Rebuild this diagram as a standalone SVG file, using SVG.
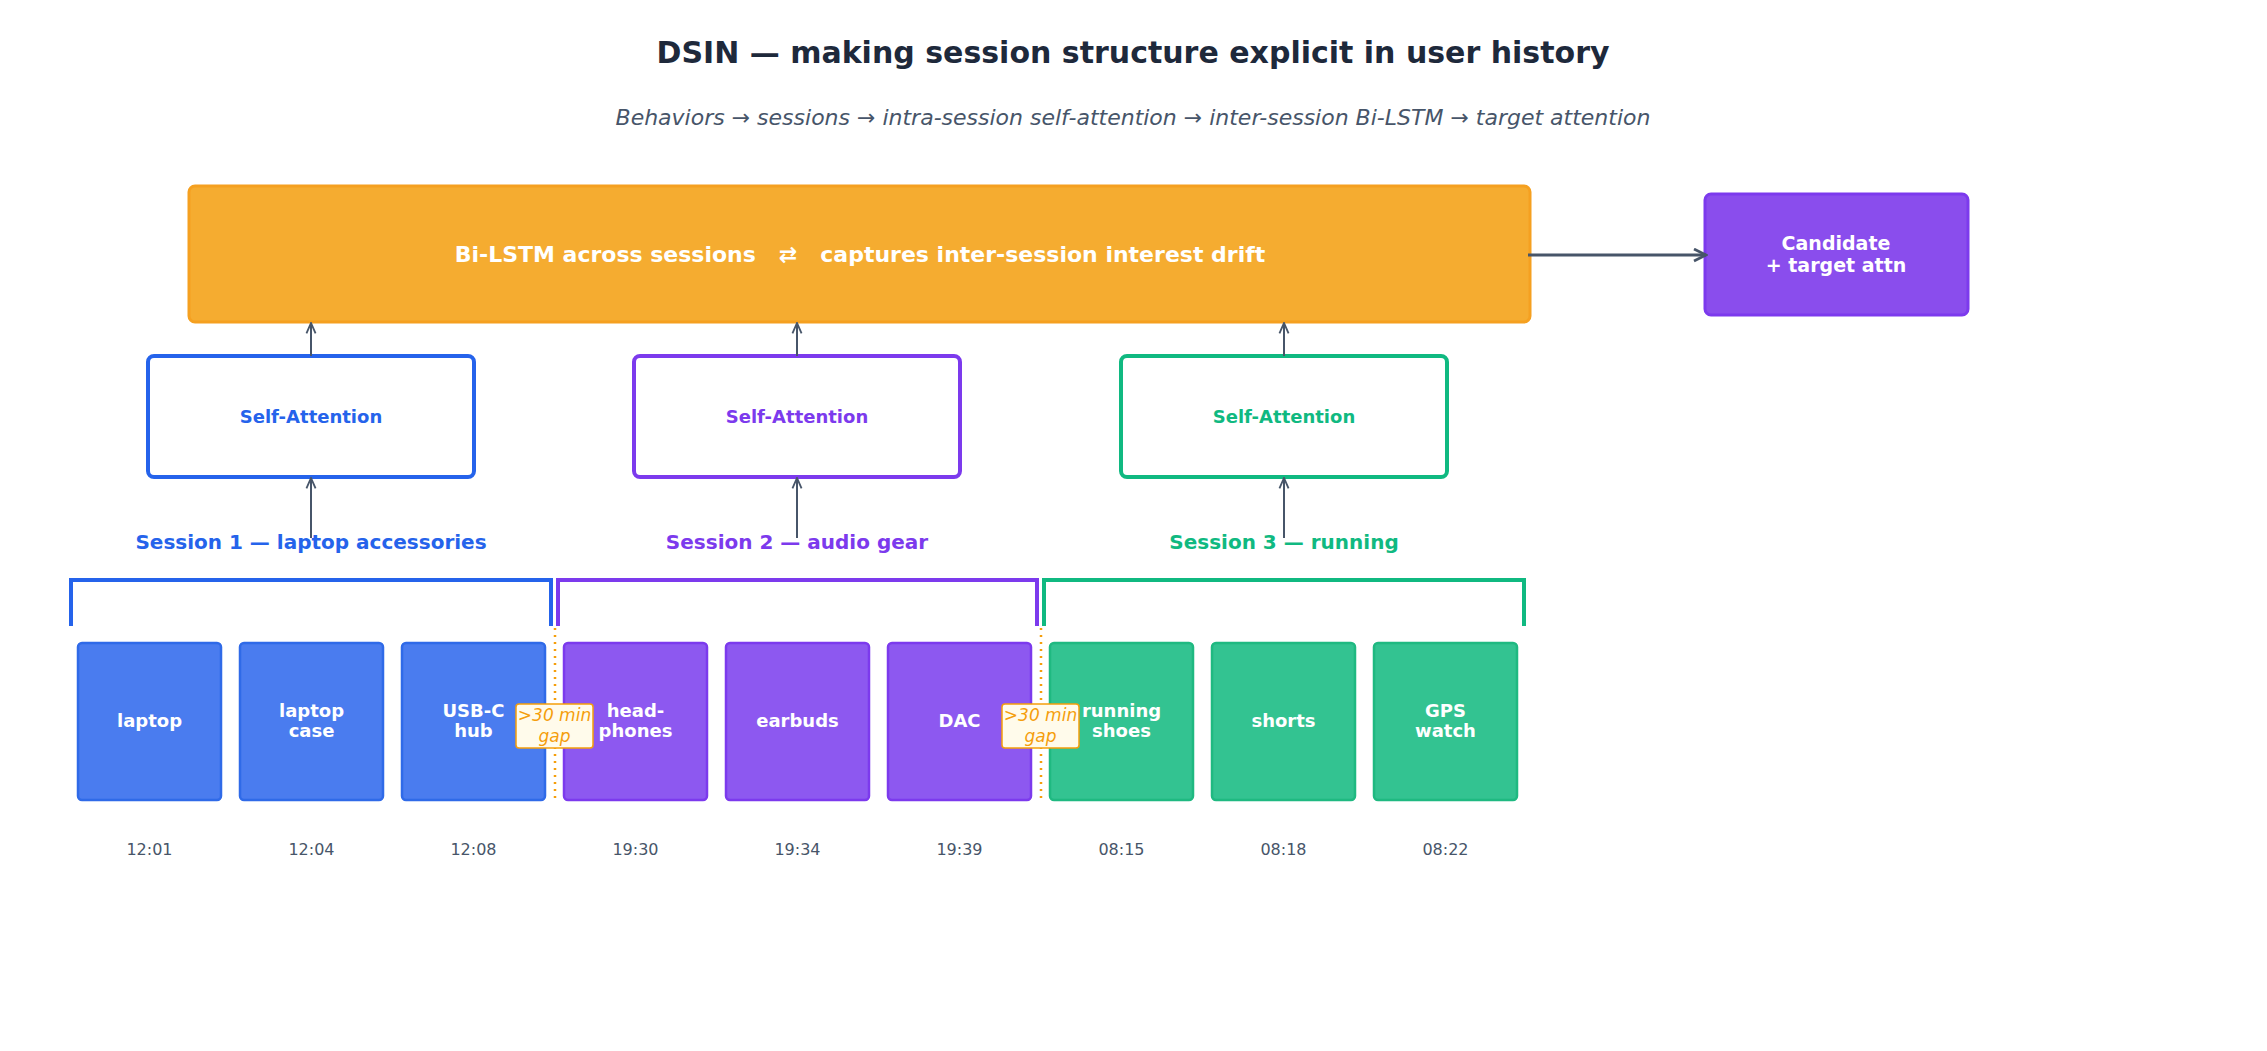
<svg xmlns="http://www.w3.org/2000/svg" width="2267" height="1051" viewBox="0 0 2267 1051">
<defs>
<marker id="ah" viewBox="0 0 10 10" refX="9" refY="5" markerWidth="13" markerHeight="13" orient="auto" markerUnits="userSpaceOnUse"><path d="M1,1.5 L9,5 L1,8.5" fill="none" stroke="#475569" stroke-width="1.4"/></marker>
<marker id="ah2" viewBox="0 0 10 10" refX="9" refY="5" markerWidth="15" markerHeight="15" orient="auto" markerUnits="userSpaceOnUse"><path d="M1,1 L9,5 L1,9" fill="none" stroke="#475569" stroke-width="1.8"/></marker>
</defs>
<style>
text{font-family:"DejaVu Sans","Liberation Sans",sans-serif;text-anchor:middle}
.w{fill:#fff;font-weight:bold;font-size:18px}
.sa{font-weight:bold;font-size:18px}
.sl{font-weight:bold;font-size:20px}
.t{fill:#475569;font-size:16px}
.b{fill:#4a7cef;stroke:#2f6ae8;stroke-width:2.5}
.p{fill:#8d58f0;stroke:#7c3aed;stroke-width:2.5}
.g{fill:#33c391;stroke:#1fb981;stroke-width:2.5}
.gl{fill:#fffbeb;stroke:#f59e0b;stroke-width:1.5}
.gt{fill:#f59e0b;font-style:italic;font-size:17px}
.c{stroke:#475569;stroke-width:2;fill:none}
</style>
<rect width="2267" height="1051" fill="#fff"/>
<text x="1133" y="63" style="font-size:30px;font-weight:bold;fill:#1e293b">DSIN — making session structure explicit in user history</text>
<text x="1133" y="125" style="font-size:22px;font-style:italic;fill:#475569">Behaviors → sessions → intra-session self-attention → inter-session Bi-LSTM → target attention</text>

<g id="bilstm"><rect x="189" y="186" width="1341" height="136" rx="6" fill="#f5ac30" stroke="#f5a020" stroke-width="3"/>
<text x="860" y="262" class="w" style="font-size:22px;white-space:pre" xml:space="preserve">Bi-LSTM across sessions   ⇄   captures inter-session interest drift</text></g>
<g id="candidate"><rect x="1705" y="194" width="263" height="121" rx="6" fill="#8a4ded" stroke="#7c3aed" stroke-width="3"/>
<text x="1836" y="250" class="w" style="font-size:19px">Candidate</text><text x="1836" y="272" class="w" style="font-size:19px">+ target attn</text></g>

<g id="sa1"><rect x="148" y="356" width="326" height="121" rx="6" fill="#fff" stroke="#2563eb" stroke-width="4"/><text x="311" y="423" class="sa" fill="#2563eb">Self-Attention</text></g>
<g id="sa2"><rect x="634" y="356" width="326" height="121" rx="6" fill="#fff" stroke="#7c3aed" stroke-width="4"/><text x="797" y="423" class="sa" fill="#7c3aed">Self-Attention</text></g>
<g id="sa3"><rect x="1121" y="356" width="326" height="121" rx="6" fill="#fff" stroke="#10b981" stroke-width="4"/><text x="1284" y="423" class="sa" fill="#10b981">Self-Attention</text></g>

<g id="sessions">
<text x="311" y="549" class="sl" fill="#2563eb">Session 1 — laptop accessories</text>
<text x="797" y="549" class="sl" fill="#7c3aed">Session 2 — audio gear</text>
<text x="1284" y="549" class="sl" fill="#10b981">Session 3 — running</text>
<path d="M71,626 V580 H551 V626" fill="none" stroke="#2563eb" stroke-width="4"/>
<path d="M558,626 V580 H1037 V626" fill="none" stroke="#7c3aed" stroke-width="4"/>
<path d="M1044,626 V580 H1524 V626" fill="none" stroke="#10b981" stroke-width="4"/>
</g>

<g id="connectors">
<line x1="311" y1="356" x2="311" y2="323" class="c" marker-end="url(#ah)"/>
<line x1="797" y1="356" x2="797" y2="323" class="c" marker-end="url(#ah)"/>
<line x1="1284" y1="356" x2="1284" y2="323" class="c" marker-end="url(#ah)"/>
<line x1="311" y1="538" x2="311" y2="478" class="c" marker-end="url(#ah)"/>
<line x1="797" y1="538" x2="797" y2="478" class="c" marker-end="url(#ah)"/>
<line x1="1284" y1="538" x2="1284" y2="478" class="c" marker-end="url(#ah)"/>
<line x1="1528" y1="255" x2="1706" y2="255" stroke="#475569" stroke-width="3" marker-end="url(#ah2)"/>
</g>

<g id="i1"><rect x="78" y="643" width="143" height="157" rx="4" class="b"/><text x="149.5" y="727" class="w">laptop</text><text x="149.5" y="855" class="t">12:01</text></g>
<g id="i2"><rect x="240" y="643" width="143" height="157" rx="4" class="b"/><text x="311.5" y="717" class="w">laptop</text><text x="311.5" y="737" class="w">case</text><text x="311.5" y="855" class="t">12:04</text></g>
<g id="i3"><rect x="402" y="643" width="143" height="157" rx="4" class="b"/><text x="473.5" y="717" class="w">USB-C</text><text x="473.5" y="737" class="w">hub</text><text x="473.5" y="855" class="t">12:08</text></g>
<g id="i4"><rect x="564" y="643" width="143" height="157" rx="4" class="p"/><text x="635.5" y="717" class="w">head-</text><text x="635.5" y="737" class="w">phones</text><text x="635.5" y="855" class="t">19:30</text></g>
<g id="i5"><rect x="726" y="643" width="143" height="157" rx="4" class="p"/><text x="797.5" y="727" class="w">earbuds</text><text x="797.5" y="855" class="t">19:34</text></g>
<g id="i6"><rect x="888" y="643" width="143" height="157" rx="4" class="p"/><text x="959.5" y="727" class="w">DAC</text><text x="959.5" y="855" class="t">19:39</text></g>
<g id="i7"><rect x="1050" y="643" width="143" height="157" rx="4" class="g"/><text x="1121.5" y="717" class="w">running</text><text x="1121.5" y="737" class="w">shoes</text><text x="1121.5" y="855" class="t">08:15</text></g>
<g id="i8"><rect x="1212" y="643" width="143" height="157" rx="4" class="g"/><text x="1283.5" y="727" class="w">shorts</text><text x="1283.5" y="855" class="t">08:18</text></g>
<g id="i9"><rect x="1374" y="643" width="143" height="157" rx="4" class="g"/><text x="1445.5" y="717" class="w">GPS</text><text x="1445.5" y="737" class="w">watch</text><text x="1445.5" y="855" class="t">08:22</text></g>

<g id="gap1"><line x1="555" y1="628" x2="555" y2="800" stroke="#f59e0b" stroke-width="2.5" stroke-dasharray="2 5"/>
<rect x="516" y="704" width="77" height="44" rx="3" class="gl"/><text x="554.5" y="721" class="gt">&gt;30 min</text><text x="554.5" y="742" class="gt">gap</text></g>
<g id="gap2"><line x1="1041" y1="628" x2="1041" y2="800" stroke="#f59e0b" stroke-width="2.5" stroke-dasharray="2 5"/>
<rect x="1002" y="704" width="77" height="44" rx="3" class="gl"/><text x="1040.5" y="721" class="gt">&gt;30 min</text><text x="1040.5" y="742" class="gt">gap</text></g>
</svg>
